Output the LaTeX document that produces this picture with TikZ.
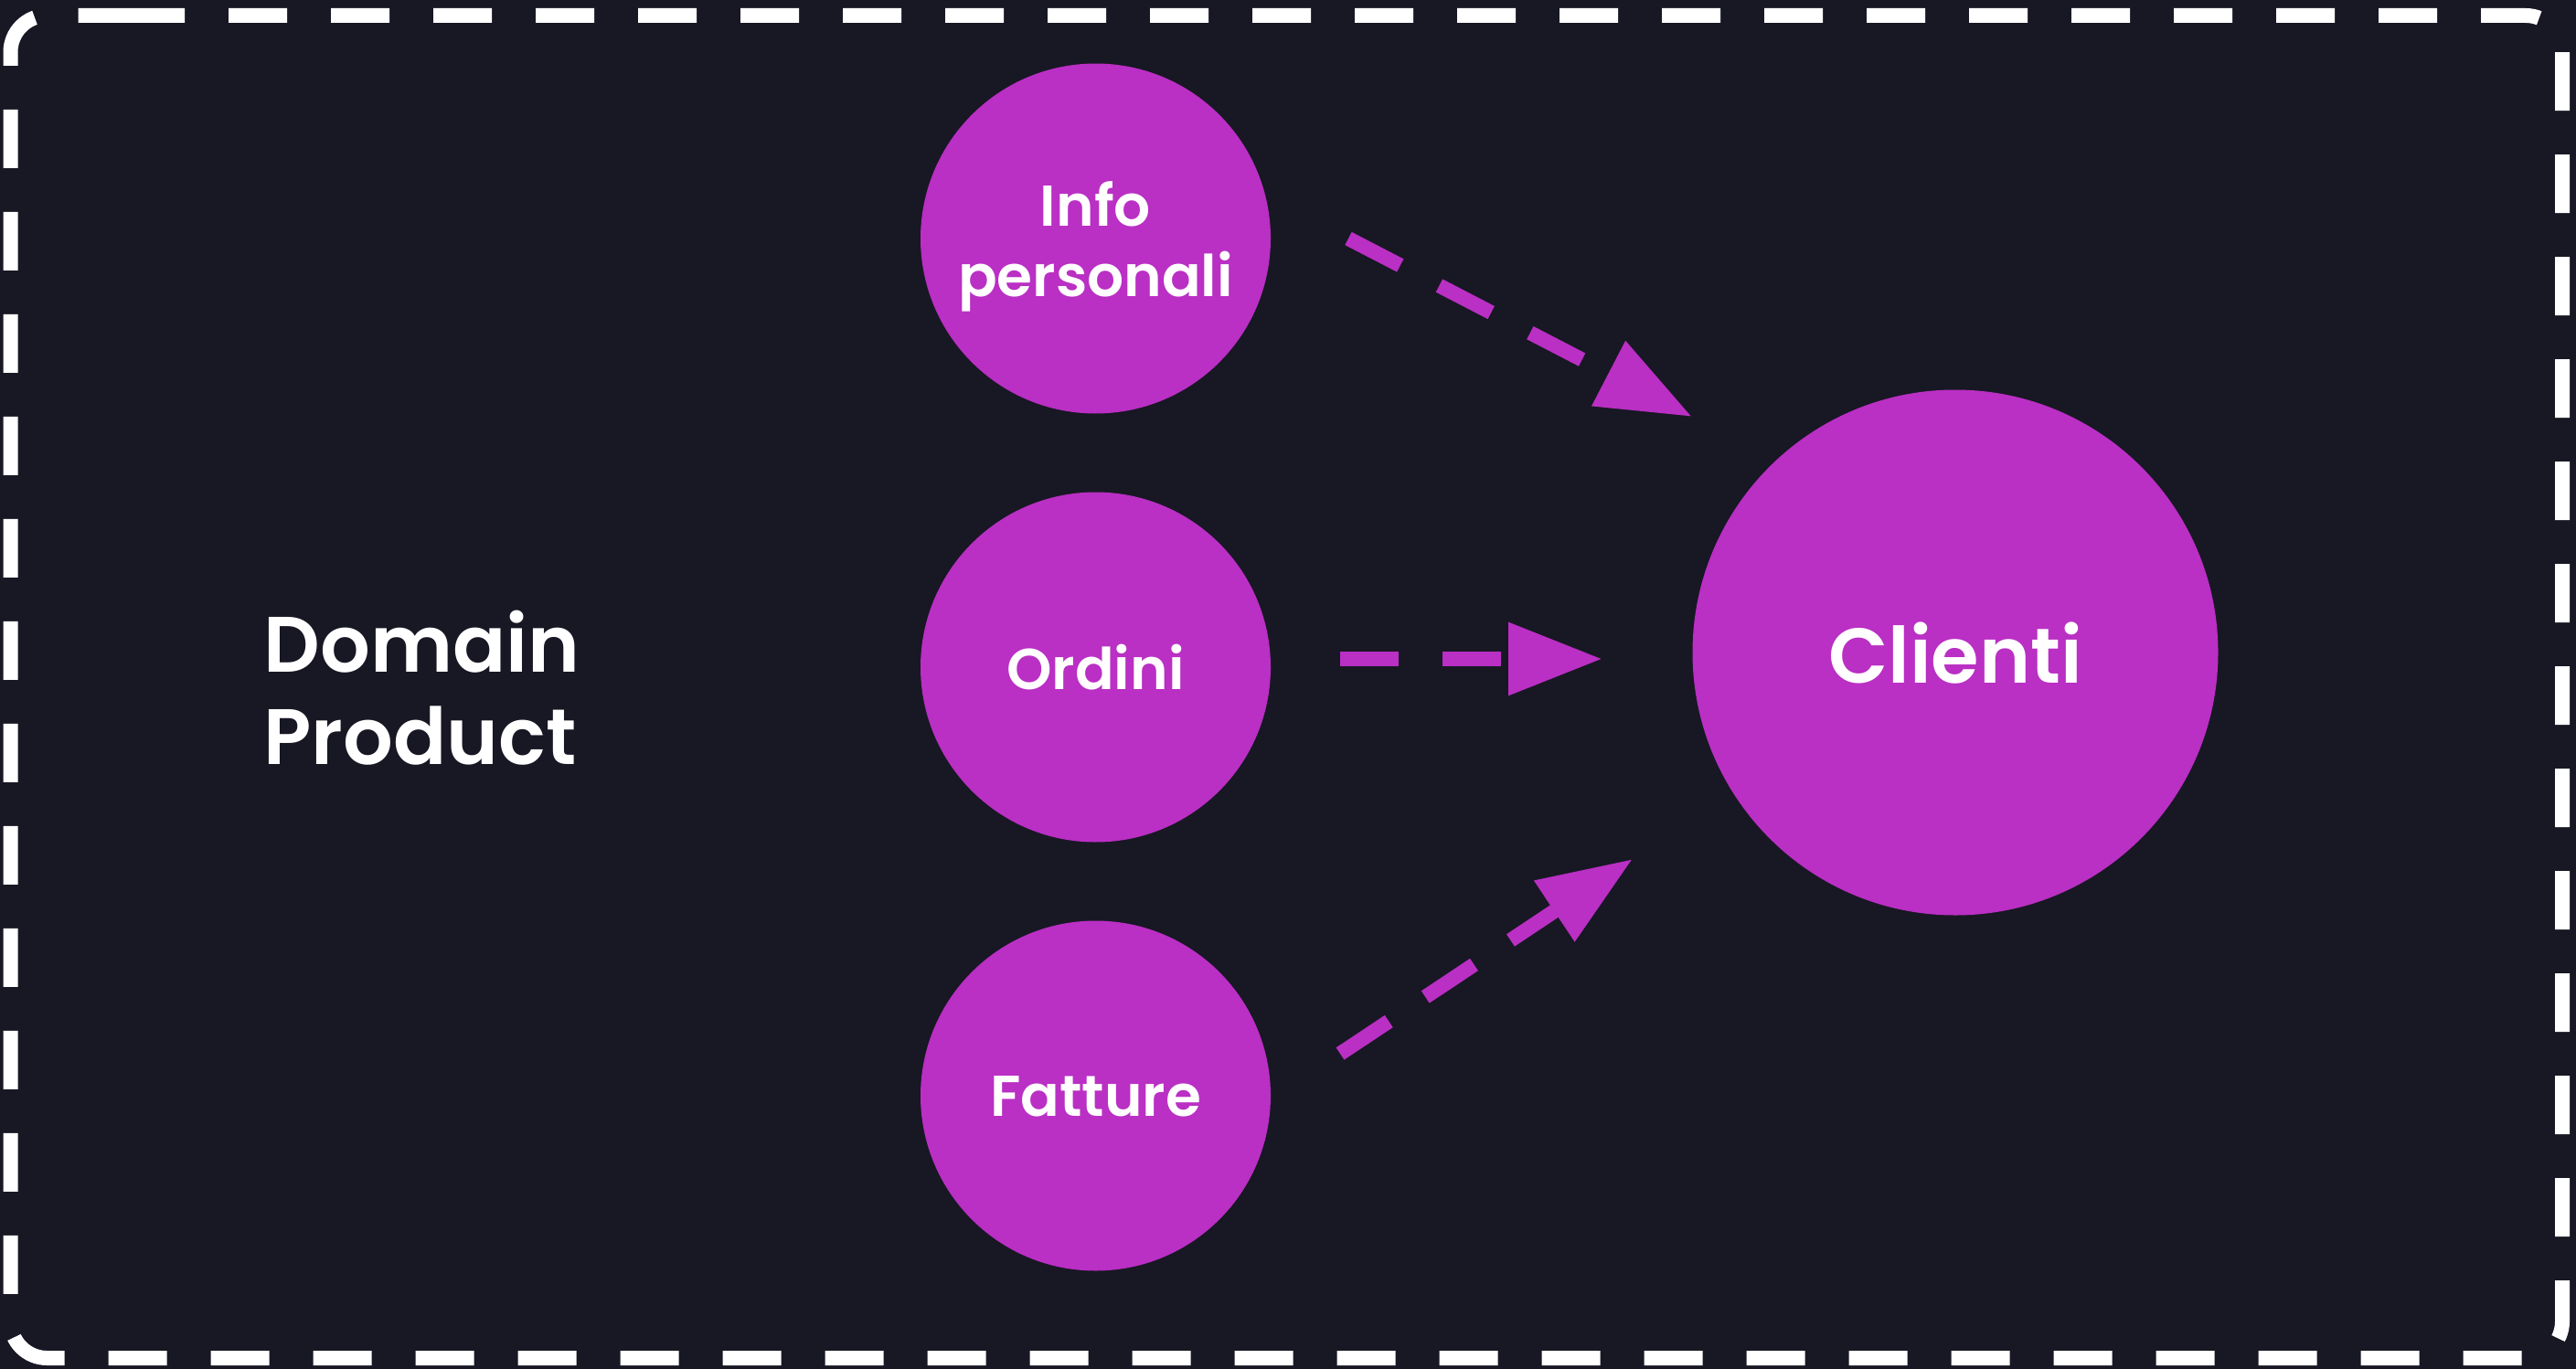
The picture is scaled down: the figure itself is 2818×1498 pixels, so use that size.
\documentclass[tikz,border=0pt]{standalone}
\usepackage{fontspec}
\setmainfont{Poppins}[BoldFont={Poppins SemiBold}]
\usetikzlibrary{arrows.meta}
\definecolor{bg}{RGB}{24,23,36}
\definecolor{purp}{RGB}{186,47,196}
\begin{document}
\begin{tikzpicture}[x=1pt,y=-1pt,
  bubble/.style={circle, fill=purp, inner sep=0pt, text=white, text depth=0pt,
    font=\bfseries\fontsize{63}{77}\selectfont, align=center},
  arr/.style={draw=purp, line width=16pt, dash pattern=on 64pt off 48pt, line cap=butt,
    -{Triangle[length=103pt,width=76pt]}},
  border/.style={draw=white, line width=16pt, dash pattern=on 64pt off 48pt, dash phase=2pt,
    rounded corners=40pt, line cap=butt}]
\fill[bg] (0,0) rectangle (2818,1498);
\useasboundingbox (0,0) rectangle (2818,1498);
\draw[border] (100,17) -- (2803,17) -- (2803,1486) -- (11.5,1486) -- (11.5,17) -- cycle;

\node[bubble, minimum size=383pt] (info) at (1198.5,261) {Info\\personali};
\node[bubble, minimum size=383pt] (ordini) at (1198.5,730) {Ordini};
\node[bubble, minimum size=383pt] (fatture) at (1198.5,1199) {Fatture};
\node[bubble, minimum size=575pt, font=\bfseries\fontsize{85}{100}\selectfont] (clienti) at (2139,714) {Clienti};
\node[text=white, inner sep=0pt, text depth=0pt, align=left,
  font=\bfseries\fontsize{86}{101}\selectfont] (domain) at (461.5,752) {Domain\\Product};

\coordinate (a1s) at (1475,261);
\coordinate (a1e) at (1851,456);
\coordinate (a2s) at (1466,721);
\coordinate (a2e) at (1753,721);
\coordinate (a3s) at (1466,1153);
\coordinate (a3e) at (1786,940);
\draw[arr] (a1s) -- (a1e);
\draw[arr] (a2s) -- (a2e);
\draw[arr] (a3s) -- (a3e);
\end{tikzpicture}
\end{document}
